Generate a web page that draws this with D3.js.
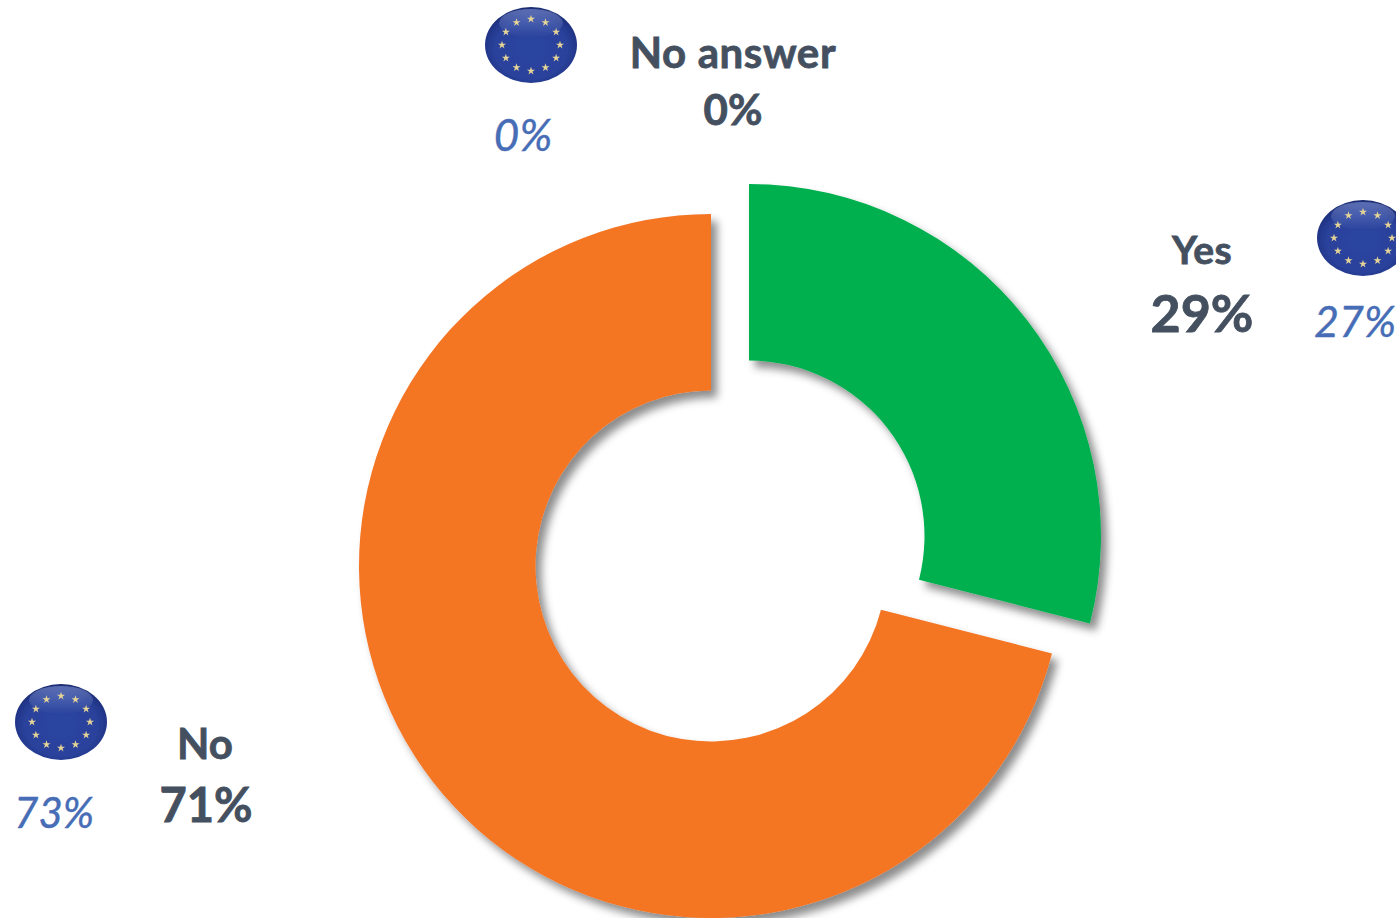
<!DOCTYPE html>
<html><head><meta charset="utf-8">
<script src="https://cdn.jsdelivr.net/npm/d3@7"></script>
<style>html,body{margin:0;padding:0;background:#fff;overflow:hidden}svg{display:block}text{font-family:Lato,"Open Sans",sans-serif}</style>
</head><body>
<svg id="c" width="1396" height="918"></svg>
<script>
const categories = ["Yes", "No", "No answer"];
const countryValues = [29, 71, 0];
const euValues = [27, 73, 0];
const colors = ["#00b050", "#f47424", "#a5a5a5"];

const svg = d3.select("#c");
const defs = svg.append("defs");

const f = defs.append("filter").attr("id","sh").attr("x","-10%").attr("y","-10%").attr("width","125%").attr("height","125%");
f.append("feDropShadow").attr("dx",6).attr("dy",7).attr("stdDeviation",4).attr("flood-color","#000").attr("flood-opacity",0.45);
defs.append("filter").attr("id","soft").attr("x","-10%").attr("y","-10%").attr("width","120%").attr("height","120%")
  .append("feGaussianBlur").attr("stdDeviation",0.7);

const g = defs.append("radialGradient").attr("id","ball").attr("cx","50%").attr("cy","55%").attr("r","55%");
[[0,"#2c45a0"],[0.72,"#2a429b"],[0.9,"#22368a"],[1,"#1a2a6e"]].forEach(s=>g.append("stop").attr("offset",s[0]).attr("stop-color",s[1]));
const gl = defs.append("linearGradient").attr("id","gloss").attr("x1",0).attr("y1",0).attr("x2",0).attr("y2",1);
gl.append("stop").attr("offset",0).attr("stop-color","#8c9ed8").attr("stop-opacity",0.55);
gl.append("stop").attr("offset",1).attr("stop-color","#8c9ed8").attr("stop-opacity",0);

// Donut
const pie = d3.pie().sort(null).value(d=>d.v);
const arc = d3.arc().innerRadius(175.5).outerRadius(352);
const centers = {"Yes":[749,536],"No":[711,566],"No answer":[730,550]};
const rows = categories.map((c,i)=>({c,v:countryValues[i],col:colors[i]}));
svg.append("g").selectAll("path").data(pie(rows).filter(d=>d.data.v>0)).join("path")
  .attr("d",arc)
  .attr("transform",d=>`translate(${centers[d.data.c]})`)
  .attr("fill",d=>d.data.col)
  .attr("filter","url(#sh)");

// EU flag balls
const star = d3.symbol().type(d3.symbolStar).size(20)();
const stars = d3.range(12);
function ball(cx,cy){
  const b = svg.append("g").attr("transform",`translate(${cx},${cy})`).attr("filter","url(#soft)");
  b.append("ellipse").attr("rx",46).attr("ry",38).attr("fill","url(#ball)");
  b.append("ellipse").attr("cy",-22).attr("rx",32).attr("ry",14).attr("fill","url(#gloss)");
  b.selectAll("path").data(stars).join("path").attr("d",star)
    .attr("fill","#e6d596")
    .attr("transform",d=>{const a=d/12*2*Math.PI;return `translate(${29*Math.sin(a)},${-26*Math.cos(a)})`;});
}
ball(531,45); ball(1363,238); ball(61,722);

// Labels
function label(t,x,y,size,kind,spacing){
  const e = svg.append("text").attr("x",x).attr("y",y).attr("text-anchor","middle").attr("font-size",size).text(t);
  if(spacing) e.attr("letter-spacing",spacing);
  if(kind==="eu") e.attr("font-style","italic").attr("fill","#466db5").attr("stroke","#466db5").attr("stroke-width",0.4);
  else e.attr("font-weight",700).attr("fill","#44505f").attr("stroke","#44505f").attr("stroke-width",0.8);
}
const pct = v=>v+"%";
label(categories[2],733,68,42,"c",0.6);
label(pct(countryValues[2]),733,125,42,"c");
label(categories[0],1202,264,39,"c",0.4);
label(pct(countryValues[0]),1202,332,52,"c");
label(categories[1],205,759,42,"c");
label(pct(countryValues[1]),206,822,47,"c");
label(pct(euValues[2]),523,151,44,"eu");
label(pct(euValues[0]),1355,337,43,"eu");
label(pct(euValues[1]),54,828,42,"eu");
</script>
</body></html>
